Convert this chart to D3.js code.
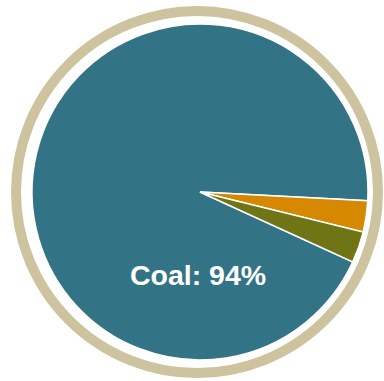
<!DOCTYPE html>
<html>
<head>
<meta charset="utf-8">
<script src="https://cdn.jsdelivr.net/npm/d3@7"></script>
<style>
  html, body { margin: 0; padding: 0; background: #fff; }
  svg { display: block; }
</style>
</head>
<body>
<svg id="chart"></svg>
<script>
// pie data
const sources = ["Coal", "Gas", "Other"];
const shares = [94, 3, 3];
const colors = ["#327485", "#d68800", "#6f7514"];

const width = 384, height = 381;
const cx = 200, cy = 192, radius = 168;

const svg = d3.select("#chart")
    .attr("width", width)
    .attr("height", height);

// beige outer ring
svg.append("circle")
    .attr("cx", 197)
    .attr("cy", 192)
    .attr("r", 181)
    .attr("fill", "none")
    .attr("stroke", "#cdc39f")
    .attr("stroke-width", 10);

const pie = d3.pie()
    .sort(null)
    .startAngle(114.6 * Math.PI / 180)
    .endAngle(114.6 * Math.PI / 180 + 2 * Math.PI);

const arc = d3.arc().innerRadius(0).outerRadius(radius);

const g = svg.append("g")
    .attr("transform", `translate(${cx},${cy})`);

const arcs = pie(shares);

g.selectAll("path")
    .data(arcs)
    .join("path")
    .attr("d", arc)
    .attr("fill", (d, i) => colors[i])
    .attr("stroke", "#fff")
    .attr("stroke-width", 1.5)
    .attr("stroke-linejoin", "miter");

// label for the big slice
g.append("text")
    .attr("x", -2)
    .attr("y", 93)
    .attr("text-anchor", "middle")
    .attr("fill", "#fff")
    .style("font-family", "'Liberation Sans', Arial, sans-serif")
    .style("font-weight", "bold")
    .style("font-size", "28.5px")
    .text(`${sources[0]}: ${shares[0]}%`);
</script>
</body>
</html>
